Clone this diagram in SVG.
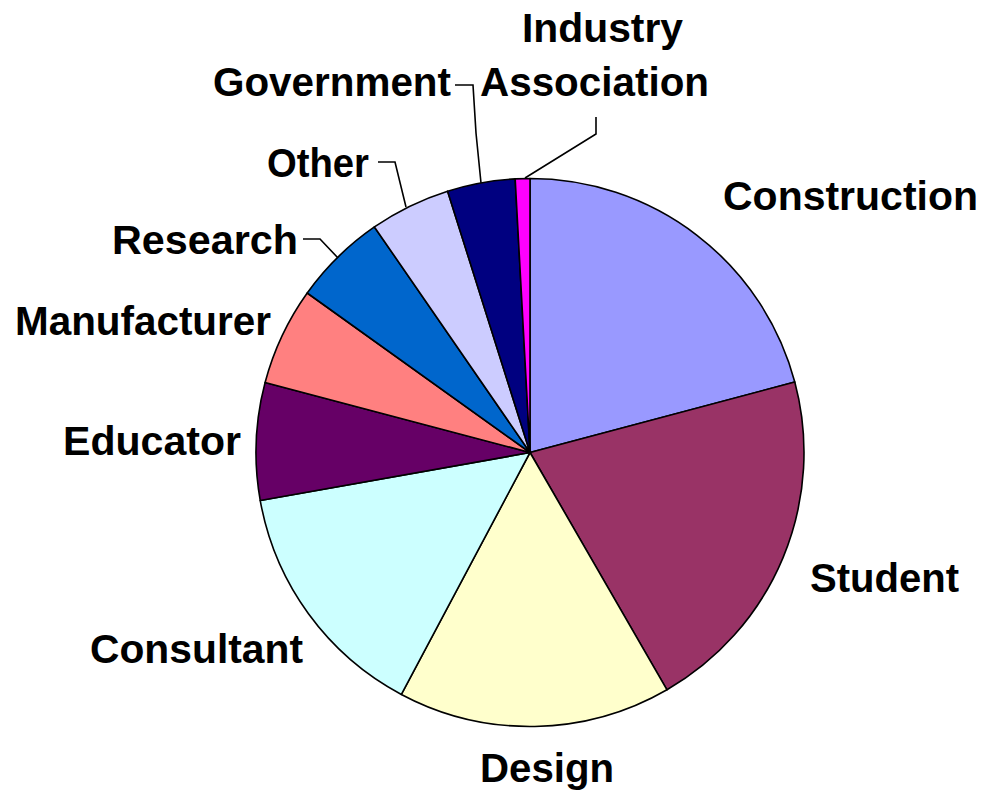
<svg xmlns="http://www.w3.org/2000/svg" width="983" height="795" viewBox="0 0 983 795">
<style>
.s{stroke:#000;stroke-width:1.6;stroke-linejoin:round}
.t{font-family:"Liberation Sans",Arial,sans-serif;font-weight:bold;font-size:40px;fill:#000}
.l{fill:none;stroke:#000;stroke-width:1.6}
</style>
<rect width="983" height="795" fill="#fff"/>
<g id="slice-construction"><path class="s" fill="#9999FF" d="M530,452.5 L530,178.5 A274,274 0 0 1 794.79,382.05 Z"/></g>
<g id="slice-student"><path class="s" fill="#993366" d="M530,452.5 L794.79,382.05 A274,274 0 0 1 667,689.79 Z"/></g>
<g id="slice-design"><path class="s" fill="#FFFFCC" d="M530,452.5 L667,689.79 A274,274 0 0 1 401.37,694.43 Z"/></g>
<g id="slice-consultant"><path class="s" fill="#CCFFFF" d="M530,452.5 L401.37,694.43 A274,274 0 0 1 260.25,500.55 Z"/></g>
<g id="slice-educator"><path class="s" fill="#660066" d="M530,452.5 L260.25,500.55 A274,274 0 0 1 265.09,382.51 Z"/></g>
<g id="slice-manufacturer"><path class="s" fill="#FF8080" d="M530,452.5 L265.09,382.51 A274,274 0 0 1 307.22,292.98 Z"/></g>
<g id="slice-research"><path class="s" fill="#0066CC" d="M530,452.5 L307.22,292.98 A274,274 0 0 1 374.41,226.96 Z"/></g>
<g id="slice-other"><path class="s" fill="#CCCCFF" d="M530,452.5 L374.41,226.96 A274,274 0 0 1 447.61,191.18 Z"/></g>
<g id="slice-government"><path class="s" fill="#000080" d="M530,452.5 L447.61,191.18 A274,274 0 0 1 515.18,178.9 Z"/></g>
<g id="slice-industry"><path class="s" fill="#FF00FF" d="M530,452.5 L515.18,178.9 A274,274 0 0 1 530,178.5 Z"/></g>
<g id="connectors">
<polyline class="l" points="303,239 320,239 338,258"/>
<polyline class="l" points="378,162 395,162 406,207"/>
<polyline class="l" points="455,85 473,85 476,133 481,183"/>
<polyline class="l" points="525,178 596,134 596,117"/>
</g>
<g id="labels">
<text class="t" x="723" y="210" textLength="255" lengthAdjust="spacingAndGlyphs">Construction</text>
<text class="t" x="810" y="592" textLength="149" lengthAdjust="spacingAndGlyphs">Student</text>
<text class="t" x="480" y="782" textLength="134" lengthAdjust="spacingAndGlyphs">Design</text>
<text class="t" x="90" y="663" textLength="213" lengthAdjust="spacingAndGlyphs">Consultant</text>
<text class="t" x="63" y="455" textLength="178" lengthAdjust="spacingAndGlyphs">Educator</text>
<text class="t" x="15" y="335" textLength="256" lengthAdjust="spacingAndGlyphs">Manufacturer</text>
<text class="t" x="112" y="254" textLength="186" lengthAdjust="spacingAndGlyphs">Research</text>
<text class="t" x="267" y="177" textLength="102" lengthAdjust="spacingAndGlyphs">Other</text>
<text class="t" x="213" y="96" textLength="238" lengthAdjust="spacingAndGlyphs">Government</text>
<text class="t" x="480" y="96" textLength="229" lengthAdjust="spacingAndGlyphs">Association</text>
<text class="t" x="522" y="42" textLength="161" lengthAdjust="spacingAndGlyphs">Industry</text>
</g>
</svg>
